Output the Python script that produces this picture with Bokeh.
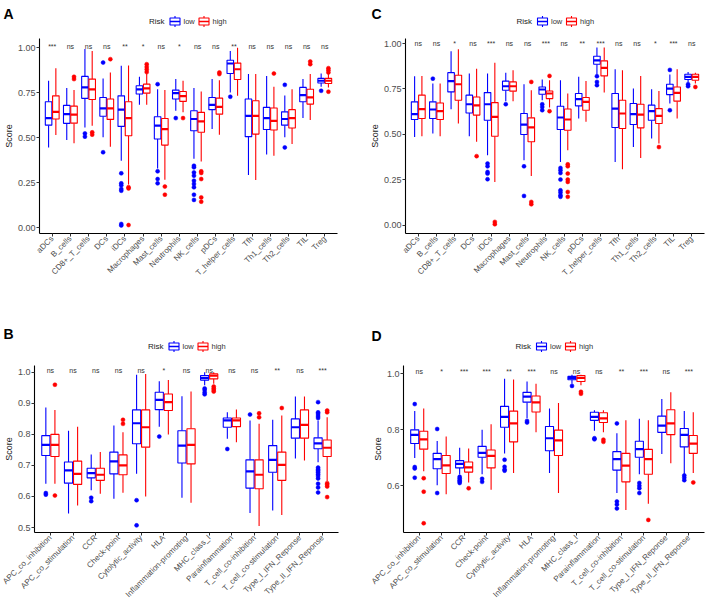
import math
from bokeh.plotting import figure
from bokeh.models import (ColumnDataSource, FactorRange, Range1d, FixedTicker, PrintfTickFormatter)
from bokeh.transform import dodge
from bokeh.layouts import column, row
from bokeh.embed import file_html
from bokeh.resources import INLINE
from bokeh.core.properties import value

# ---------------- Panel A : immune cells (set 1) ----------------
a_cats = ["aDCs", "B_cells", "CD8+_T_cells", "DCs", "iDCs", "Macrophages", "Mast_cells",
          "Neutrophils", "NK_cells", "pDCs", "T_helper_cells", "Tfh", "Th1_cells",
          "Th2_cells", "TIL", "Treg"]
a_low_lo = [0.446, 0.487, 0.557, 0.502, 0.372, 0.683, 0.328, 0.650, 0.383, 0.548, 0.752, 0.293, 0.406, 0.502, 0.609, 0.783]
a_low_q1 = [0.570, 0.580, 0.719, 0.619, 0.563, 0.743, 0.493, 0.715, 0.539, 0.656, 0.857, 0.506, 0.546, 0.570, 0.700, 0.804]
a_low_med = [0.609, 0.631, 0.780, 0.663, 0.656, 0.769, 0.567, 0.748, 0.604, 0.683, 0.913, 0.622, 0.609, 0.604, 0.737, 0.817]
a_low_q3 = [0.700, 0.680, 0.841, 0.724, 0.733, 0.789, 0.617, 0.765, 0.650, 0.724, 0.931, 0.715, 0.669, 0.644, 0.780, 0.830]
a_low_hi = [0.817, 0.776, 0.993, 0.830, 0.900, 0.839, 0.770, 0.826, 0.776, 0.826, 0.983, 0.854, 0.844, 0.735, 0.826, 0.857]
a_low_out = [[], [], [0.524, 0.506], [0.918, 0.419], [0.302, 0.246, 0.235, 0.215, 0.205, 0.020, 0.012],
             [], [0.798, 0.313, 0.270, 0.246], [0.609],
             [0.344, 0.335, 0.307, 0.289, 0.261, 0.243, 0.224, 0.183, 0.154],
             [], [0.728], [], [], [0.794, 0.446], [], [0.761]]
a_high_lo = [0.515, 0.469, 0.567, 0.450, 0.239, 0.683, 0.266, 0.641, 0.368, 0.517, 0.733, 0.265, 0.400, 0.465, 0.598, 0.780]
a_high_q1 = [0.604, 0.581, 0.713, 0.602, 0.511, 0.748, 0.459, 0.702, 0.530, 0.631, 0.824, 0.520, 0.543, 0.554, 0.687, 0.802]
a_high_med = [0.644, 0.628, 0.769, 0.663, 0.609, 0.774, 0.548, 0.731, 0.591, 0.672, 0.881, 0.622, 0.594, 0.609, 0.724, 0.817]
a_high_q3 = [0.733, 0.676, 0.826, 0.715, 0.700, 0.798, 0.607, 0.757, 0.641, 0.720, 0.915, 0.706, 0.665, 0.656, 0.770, 0.830]
a_high_hi = [0.887, 0.765, 0.983, 0.863, 0.902, 0.857, 0.765, 0.817, 0.757, 0.820, 1.000, 0.854, 0.783, 0.770, 0.854, 0.854]
a_high_out = [[], [0.839, 0.826], [0.530, 0.517], [0.937], [0.225, 0.218, 0.014],
              [0.909, 0.894, 0.880, 0.865], [0.228, 0.183], [0.609],
              [0.313, 0.304, 0.270, 0.168, 0.144], [0.863, 0.854], [], [], [0.857], [],
              [0.924, 0.909], [0.887, 0.876, 0.863, 0.756]]
a_sig = ["***", "ns", "ns", "ns", "**", "*", "ns", "*", "ns", "ns", "**", "ns", "ns", "ns", "ns", "ns"]
a_yticks = [0.0, 0.25, 0.5, 0.75, 1.0]
a_ylabels = ["0.00", "0.25", "0.50", "0.75", "1.00"]

# ---------------- Panel C : immune cells (set 2) ----------------
c_cats = list(a_cats)
c_low_lo = [0.486, 0.505, 0.639, 0.490, 0.385, 0.683, 0.357, 0.688, 0.348, 0.587, 0.829, 0.348, 0.431, 0.477, 0.670, 0.785]
c_low_q1 = [0.582, 0.587, 0.734, 0.618, 0.578, 0.743, 0.499, 0.721, 0.527, 0.657, 0.886, 0.538, 0.554, 0.578, 0.719, 0.802]
c_low_med = [0.611, 0.637, 0.793, 0.666, 0.666, 0.765, 0.554, 0.747, 0.593, 0.694, 0.908, 0.642, 0.611, 0.628, 0.752, 0.817]
c_low_q3 = [0.679, 0.679, 0.840, 0.716, 0.730, 0.793, 0.615, 0.761, 0.655, 0.725, 0.930, 0.725, 0.670, 0.661, 0.776, 0.831]
c_low_hi = [0.820, 0.780, 0.958, 0.835, 0.835, 0.839, 0.776, 0.802, 0.798, 0.817, 0.978, 0.859, 0.752, 0.749, 0.830, 0.844]
c_low_out = [[], [0.807], [], [], [0.339, 0.324, 0.293, 0.284, 0.253], [0.666], [0.324, 0.161],
             [0.666, 0.651, 0.633], [0.315, 0.302, 0.287, 0.251, 0.192, 0.180, 0.165, 0.156],
             [], [0.820, 0.789, 0.771], [], [], [], [0.855, 0.633], [0.776, 0.765]]
c_high_lo = [0.490, 0.490, 0.560, 0.459, 0.238, 0.683, 0.271, 0.648, 0.412, 0.569, 0.730, 0.308, 0.370, 0.450, 0.587, 0.780]
c_high_q1 = [0.587, 0.582, 0.688, 0.606, 0.490, 0.738, 0.459, 0.697, 0.523, 0.633, 0.822, 0.532, 0.536, 0.560, 0.683, 0.798]
c_high_med = [0.639, 0.628, 0.776, 0.660, 0.596, 0.765, 0.538, 0.725, 0.582, 0.679, 0.866, 0.615, 0.609, 0.602, 0.728, 0.817]
c_high_q3 = [0.716, 0.673, 0.826, 0.706, 0.675, 0.789, 0.591, 0.739, 0.640, 0.703, 0.905, 0.688, 0.666, 0.642, 0.761, 0.831]
c_high_hi = [0.822, 0.780, 0.969, 0.862, 0.894, 0.853, 0.743, 0.798, 0.725, 0.794, 0.978, 0.853, 0.822, 0.739, 0.859, 0.839]
c_high_out = [[], [], [], [0.380], [0.018, 0.005], [], [0.789, 0.128, 0.115], [0.822, 0.628],
              [0.335, 0.324, 0.284, 0.251, 0.238, 0.183, 0.156], [], [], [], [], [0.430], [], [0.761]]
c_sig = ["ns", "ns", "*", "ns", "***", "ns", "ns", "***", "ns", "**", "***", "ns", "ns", "*", "***", "ns"]
c_yticks = [0.0, 0.25, 0.5, 0.75, 1.0]
c_ylabels = ["0.00", "0.25", "0.50", "0.75", "1.00"]

# ---------------- Panel B : immune functions (set 1) ----------------
b_cats = ["APC_co_inhibition", "APC_co_stimulation", "CCR", "Check-point", "Cytolytic_activity",
          "HLA", "Inflammation-promoting", "MHC_class_I", "Parainflammation",
          "T_cell_co-inhibition", "T_cell_co-stimulation", "Type_I_IFN_Reponse", "Type_II_IFN_Reponse"]
b_low_lo = [0.641, 0.545, 0.620, 0.593, 0.673, 0.825, 0.596, 0.958, 0.786, 0.547, 0.555, 0.722, 0.710]
b_low_q1 = [0.732, 0.643, 0.660, 0.673, 0.770, 0.880, 0.708, 0.975, 0.823, 0.627, 0.678, 0.788, 0.754]
b_low_med = [0.766, 0.684, 0.675, 0.713, 0.836, 0.911, 0.764, 0.982, 0.845, 0.681, 0.718, 0.823, 0.771]
b_low_q3 = [0.796, 0.711, 0.691, 0.743, 0.879, 0.936, 0.812, 0.990, 0.853, 0.718, 0.764, 0.850, 0.789]
b_low_hi = [0.887, 0.812, 0.735, 0.829, 0.992, 0.971, 0.923, 1.000, 0.871, 0.845, 0.847, 0.922, 0.845]
b_low_out = [[0.611, 0.606], [], [0.596, 0.585], [], [0.588, 0.507], [0.793], [],
             [0.948, 0.943, 0.935, 0.929], [0.753], [0.864], [], [],
             [0.904, 0.871, 0.866, 0.859, 0.853, 0.693, 0.687, 0.683, 0.678, 0.672, 0.666,
              0.658, 0.641, 0.629, 0.613]]
b_high_lo = [0.641, 0.571, 0.609, 0.612, 0.600, 0.800, 0.580, 0.963, 0.775, 0.505, 0.540, 0.716, 0.650]
b_high_q1 = [0.729, 0.639, 0.652, 0.670, 0.759, 0.877, 0.705, 0.979, 0.825, 0.625, 0.652, 0.788, 0.729]
b_high_med = [0.766, 0.673, 0.670, 0.700, 0.823, 0.904, 0.766, 0.989, 0.845, 0.670, 0.702, 0.831, 0.757]
b_high_q3 = [0.800, 0.714, 0.691, 0.734, 0.879, 0.930, 0.818, 0.995, 0.853, 0.718, 0.743, 0.879, 0.782]
b_high_hi = [0.879, 0.825, 0.743, 0.807, 0.995, 0.975, 0.938, 1.000, 0.880, 0.834, 0.861, 0.922, 0.855]
b_high_out = [[0.960, 0.603], [], [], [0.847, 0.834], [], [], [], [0.954, 0.948, 0.943, 0.938],
              [], [0.868, 0.855], [0.885], [], [0.877, 0.871, 0.643, 0.638, 0.632, 0.598]]
b_sig = ["ns", "ns", "ns", "ns", "ns", "*", "ns", "ns", "ns", "ns", "**", "ns", "***"]
b_yticks = [0.5, 0.6, 0.7, 0.8, 0.9, 1.0]
b_ylabels = ["0.5", "0.6", "0.7", "0.8", "0.9", "1.0"]

# ---------------- Panel D : immune functions (set 2) ----------------
d_cats = list(b_cats)
d_low_lo = [0.699, 0.602, 0.640, 0.641, 0.715, 0.841, 0.646, 0.965, 0.797, 0.574, 0.641, 0.714, 0.640]
d_low_q1 = [0.751, 0.661, 0.664, 0.702, 0.809, 0.899, 0.725, 0.979, 0.834, 0.656, 0.702, 0.791, 0.739]
d_low_med = [0.782, 0.695, 0.678, 0.718, 0.846, 0.919, 0.770, 0.985, 0.846, 0.695, 0.731, 0.815, 0.782]
d_low_q3 = [0.800, 0.716, 0.690, 0.741, 0.884, 0.934, 0.812, 0.991, 0.863, 0.722, 0.759, 0.849, 0.805]
d_low_hi = [0.867, 0.760, 0.736, 0.800, 0.983, 0.973, 0.876, 0.997, 0.870, 0.788, 0.840, 0.910, 0.867]
d_low_out = [[0.892, 0.667, 0.662, 0.629], [0.803, 0.574], [0.632, 0.626, 0.620, 0.615, 0.610],
             [0.625, 0.614], [0.693, 0.668, 0.658, 0.654], [0.832, 0.826], [], [0.957],
             [0.770, 0.766], [0.823, 0.544, 0.533, 0.519], [0.610, 0.600, 0.591, 0.574], [],
             [0.637, 0.629, 0.620]]
d_high_lo = [0.652, 0.570, 0.612, 0.586, 0.646, 0.791, 0.574, 0.959, 0.791, 0.513, 0.536, 0.681, 0.646]
d_high_q1 = [0.731, 0.644, 0.649, 0.664, 0.757, 0.864, 0.708, 0.973, 0.826, 0.614, 0.641, 0.783, 0.716]
d_high_med = [0.766, 0.673, 0.666, 0.707, 0.823, 0.898, 0.762, 0.986, 0.841, 0.672, 0.695, 0.823, 0.751]
d_high_q3 = [0.795, 0.708, 0.685, 0.728, 0.867, 0.921, 0.799, 0.994, 0.861, 0.716, 0.730, 0.872, 0.780]
d_high_hi = [0.876, 0.776, 0.733, 0.820, 0.980, 0.965, 0.896, 0.997, 0.870, 0.834, 0.834, 0.934, 0.863]
d_high_out = [[0.627, 0.579, 0.466], [], [0.591], [], [], [], [], [0.936, 0.929], [0.765, 0.757],
              [], [0.478], [], [0.612]]
d_sig = ["ns", "*", "***", "***", "**", "***", "ns", "ns", "ns", "**", "***", "ns", "***"]
d_yticks = [0.6, 0.8, 1.0]
d_ylabels = ["0.6", "0.8", "1.0"]

groups = ["low", "high"]
group_colors = ["#0000FF", "#FF0000"]
legend_title = "Risk"

FONT = "Liberation Sans"
OFF = 0.2
BW = 0.36


def header(letter, w, h, cx, cy, letter_x, letter_base):
    """Panel letter and the 'Risk' key strip drawn above a panel (pixel-like coordinates)."""
    hp = figure(width=w, height=h, x_range=Range1d(0, w), y_range=Range1d(h, 0),
                x_axis_type=None, y_axis_type=None,
                output_backend="svg", toolbar_location=None,
                min_border_left=0, min_border_right=0, min_border_top=0, min_border_bottom=0)
    hp.xgrid.visible = False
    hp.ygrid.visible = False
    hp.outline_line_color = None
    hp.text(x=[letter_x], y=[letter_base], text=[letter], text_font=value(FONT),
            text_font_style="bold", text_font_size="14px", text_color="black",
            text_align="left", text_baseline="alphabetic")
    hp.text(x=[cx - 23], y=[cy], text=[legend_title], text_font=value(FONT),
            text_font_size="8px", text_color="#222222", text_align="right",
            text_baseline="middle")
    key_x = [cx - 12.5, cx + 16.5]
    for g, col, kx in zip(groups, group_colors, key_x):
        hp.segment(x0=[kx, kx], x1=[kx, kx], y0=[cy - 5.5, cy + 3.5], y1=[cy - 3.5, cy + 5.5],
                   line_color=col, line_width=1.1)
        hp.rect(x=[kx], y=[cy], width=10, height=7, fill_color="white",
                line_color=col, line_width=1.1)
        hp.segment(x0=[kx - 5], x1=[kx + 5], y0=[cy], y1=[cy], line_color=col, line_width=1.6)
        hp.text(x=[kx + 8.5], y=[cy], text=[g], text_font=value(FONT), text_font_size="7.5px",
                text_color="#333333", text_align="left", text_baseline="middle")
    return hp


def make_panel(cats, stats, sig, sig_y, yr, yticks, ylabels, fmt, w, h, bl, br, bt, bb):
    p = figure(x_range=FactorRange(factors=cats, range_padding=0.2, range_padding_units="absolute"),
               y_range=Range1d(yr[0], yr[1]), width=w, height=h,
               output_backend="svg", toolbar_location=None,
               min_border_left=bl, min_border_right=br, min_border_top=bt, min_border_bottom=bb)
    p.xgrid.visible = False
    p.ygrid.visible = False
    p.outline_line_color = None

    for gi, (g, col) in enumerate(zip(groups, group_colors)):
        lo, q1, med, q3, hi, outs = stats[gi]
        off = -OFF if gi == 0 else OFF
        src = ColumnDataSource(dict(cat=cats, lo=lo, q1=q1, med=med, q3=q3, hi=hi))
        xc = dodge("cat", off, range=p.x_range)
        p.segment(x0=xc, x1=xc, y0="q3", y1="hi", source=src, line_color=col, line_width=1.1)
        p.segment(x0=xc, x1=xc, y0="lo", y1="q1", source=src, line_color=col, line_width=1.1)
        p.vbar(x=xc, width=BW, top="q3", bottom="q1", source=src,
               fill_color="white", line_color=col, line_width=1.1)
        p.segment(x0=dodge("cat", off - BW / 2, range=p.x_range),
                  x1=dodge("cat", off + BW / 2, range=p.x_range),
                  y0="med", y1="med", source=src, line_color=col, line_width=2.2)
        oc, ov = [], []
        for c, vals in zip(cats, outs):
            for v in vals:
                oc.append(c)
                ov.append(v)
        osrc = ColumnDataSource(dict(cat=oc, val=ov))
        p.scatter(x=dodge("cat", off, range=p.x_range), y="val", source=osrc,
                  size=4, fill_color=col, line_color=col, line_width=0.5)

    ssrc = ColumnDataSource(dict(cat=cats, sig=sig, y=[sig_y] * len(cats)))
    p.text(x="cat", y="y", text="sig", source=ssrc, text_font=value(FONT),
           text_font_size="7px", text_color="#333333", text_align="center",
           text_baseline="middle")

    p.yaxis.ticker = FixedTicker(ticks=yticks)
    p.yaxis.formatter = PrintfTickFormatter(format=fmt)
    p.yaxis.major_label_overrides = {t: l for t, l in zip(yticks, ylabels)}
    for ax in (p.xaxis[0], p.yaxis[0]):
        ax.axis_line_color = "black"
        ax.axis_line_width = 1.1
        ax.major_tick_line_color = "#333333"
        ax.major_tick_out = 3
        ax.major_tick_in = 0
        ax.minor_tick_line_color = None
        ax.major_label_text_font = FONT
        ax.major_label_text_color = "#4D4D4D"
    p.yaxis.major_label_standoff = 1
    p.yaxis.major_label_text_font_size = "9px"
    p.yaxis.axis_label = "Score"
    p.yaxis.axis_label_text_font = FONT
    p.yaxis.axis_label_text_font_size = "9px"
    p.yaxis.axis_label_text_font_style = "normal"
    p.yaxis.axis_label_text_color = "#1A1A1A"
    p.yaxis.axis_label_standoff = 1
    p.xaxis.major_label_text_font_size = "8px"
    p.xaxis.major_label_orientation = math.pi / 4
    p.xaxis.major_label_standoff = 1
    return p


def frame_cx(w, bl, br):
    return bl + (w - bl - br) / 2


# geometry (pixels)
W1, W2 = 354, 352
H_HEAD1, H_MAIN1 = 30, 270
H_HEAD2, H_MAIN2 = 55, 250

pa = make_panel(a_cats,
                [(a_low_lo, a_low_q1, a_low_med, a_low_q3, a_low_hi, a_low_out),
                 (a_high_lo, a_high_q1, a_high_med, a_high_q3, a_high_hi, a_high_out)],
                a_sig, 1.008, (-0.033, 1.052), a_yticks, a_ylabels, "%.2f",
                W1, H_MAIN1, 37, 17, 7, 67)
ha = header("A", W1, H_HEAD1, frame_cx(W1, 37, 17), 21, 3, 13.5)

pc = make_panel(c_cats,
                [(c_low_lo, c_low_q1, c_low_med, c_low_q3, c_low_hi, c_low_out),
                 (c_high_lo, c_high_q1, c_high_med, c_high_q3, c_high_hi, c_high_out)],
                c_sig, 1.0, (-0.046, 1.028), c_yticks, c_ylabels, "%.2f",
                W2, H_MAIN1, 51, 2, 8, 67)
hc = header("C", W2, H_HEAD1, frame_cx(W2, 51, 2), 21, 17, 13.5)

pb = make_panel(b_cats,
                [(b_low_lo, b_low_q1, b_low_med, b_low_q3, b_low_hi, b_low_out),
                 (b_high_lo, b_high_q1, b_high_med, b_high_q3, b_high_hi, b_high_out)],
                b_sig, 1.007, (0.484, 1.022), b_yticks, b_ylabels, "%.1f",
                W1, H_MAIN2, 34, 16, 10, 73)
hb = header("B", W1, H_HEAD2, frame_cx(W1, 34, 16), 46, 3, 33)

pd_ = make_panel(d_cats,
                 [(d_low_lo, d_low_q1, d_low_med, d_low_q3, d_low_hi, d_low_out),
                  (d_high_lo, d_high_q1, d_high_med, d_high_q3, d_high_hi, d_high_out)],
                 d_sig, 1.007, (0.433, 1.03), d_yticks, d_ylabels, "%.1f",
                 W2, H_MAIN2, 49, 2, 8, 72)
hd = header("D", W2, H_HEAD2, frame_cx(W2, 49, 2), 46, 17, 35)

layout = column(row(ha, hc), row(pa, pc), row(hb, hd), row(pb, pd_))
open("out.html", "w").write(file_html(layout, INLINE))
